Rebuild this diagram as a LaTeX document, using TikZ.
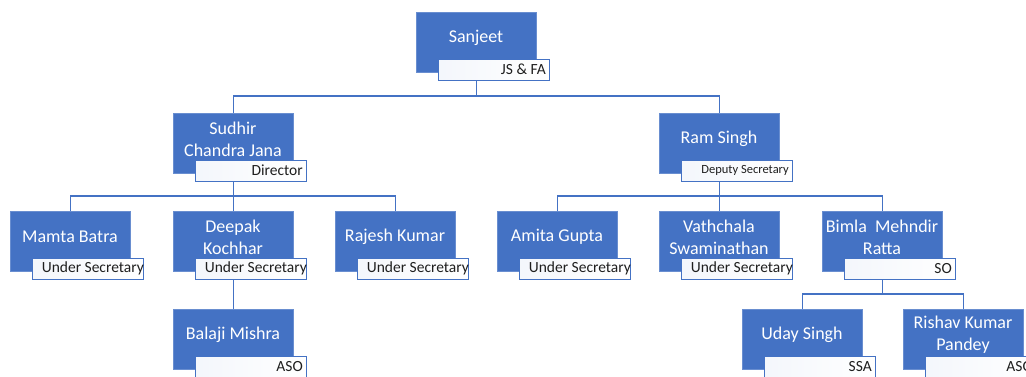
\documentclass[tikz,border=0pt]{standalone}
\usepackage{fontspec}
\setmainfont{Carlito}
\definecolor{obl}{HTML}{4472C4}
\definecolor{ltx}{HTML}{1F1F1F}
\newcommand\orgbox[6]{%
  \node[namebox] (#1) at (#2,#3) {};
  \node[nametext] (#1t) at (#2+60,#3+26) {#4};
  \node[labbox] (#1l) at (#2+22,#3+47) {};
  \node[labtext,#6] (#1lt) at (#2+130,#3+57.5) {#5};
}
\begin{document}
\begin{tikzpicture}[x=1pt,y=-1pt,
  namebox/.style={fill=obl,draw=obl!80!white,line width=1pt,minimum width=120pt,minimum height=60pt,anchor=north west,inner sep=0pt},
  nametext/.style={text=white,font=\fontsize{18}{22}\selectfont,align=center,inner sep=0pt},
  labbox/.style={left color=obl!6,right color=white,draw=obl,line width=1.2pt,minimum width=111pt,minimum height=21pt,anchor=north west,inner sep=0pt},
  labtext/.style={text=ltx,font=\fontsize{15.5}{17}\selectfont,anchor=east,inner sep=0pt},
  link/.style={draw=obl,line width=1.5pt}]
\useasboundingbox (0,0) rectangle (1026,376);
\clip (0,0) rectangle (1026,376);
\fill[white] (0,0) rectangle (1026,376);
\coordinate (bus1) at (0,96);
\coordinate (bus2) at (0,196);
\coordinate (bus3) at (0,294);
\orgbox{sanjeet}{416}{12}{Sanjeet}{JS \& FA}{}
\orgbox{sudhir}{173}{113}{Sudhir\\Chandra Jana}{Director}{}
\orgbox{ram}{659}{113}{Ram Singh}{Deputy Secretary}{font=\fontsize{12.5}{14}\selectfont}
\orgbox{mamta}{10}{211}{Mamta Batra}{Under Secretary}{xshift=4pt}
\orgbox{deepak}{173}{211}{Deepak\\Kochhar}{Under Secretary}{xshift=4pt}
\orgbox{rajesh}{335}{211}{Rajesh Kumar}{Under Secretary}{xshift=4pt}
\orgbox{amita}{497}{211}{Amita Gupta}{Under Secretary}{xshift=4pt}
\orgbox{vath}{659}{211}{Vathchala\\Swaminathan}{Under Secretary}{xshift=4pt}
\orgbox{bimla}{822}{211}{Bimla\ \ Mehndir\\Ratta}{SO}{}
\orgbox{balaji}{173}{309}{Balaji Mishra}{ASO}{}
\orgbox{uday}{742}{309}{Uday Singh}{SSA}{}
\orgbox{rishav}{903}{309}{Rishav Kumar\\Pandey}{ASO}{}
% connectors
\draw[link] (sanjeet.south |- sanjeetl.south) -- (sanjeet.south |- bus1) -| (sudhir.north);
\draw[link] (sanjeet.south |- bus1) -| (ram.north);
\draw[link] (sudhir.south |- sudhirl.south) -- (sudhir.south |- bus2) -| (mamta.north);
\draw[link] (sudhir.south |- bus2) -| (rajesh.north);
\draw[link] (sudhir.south |- bus2) -- (deepak.north);
\draw[link] (ram.south |- raml.south) -- (ram.south |- bus2) -| (amita.north);
\draw[link] (ram.south |- bus2) -| (bimla.north);
\draw[link] (ram.south |- bus2) -- (vath.north);
\draw[link] (deepak.south |- deepakl.south) -- (balaji.north);
\draw[link] (bimla.south |- bimlal.south) -- (bimla.south |- bus3) -| (uday.north);
\draw[link] (bimla.south |- bus3) -| (rishav.north);
\end{tikzpicture}
\end{document}
